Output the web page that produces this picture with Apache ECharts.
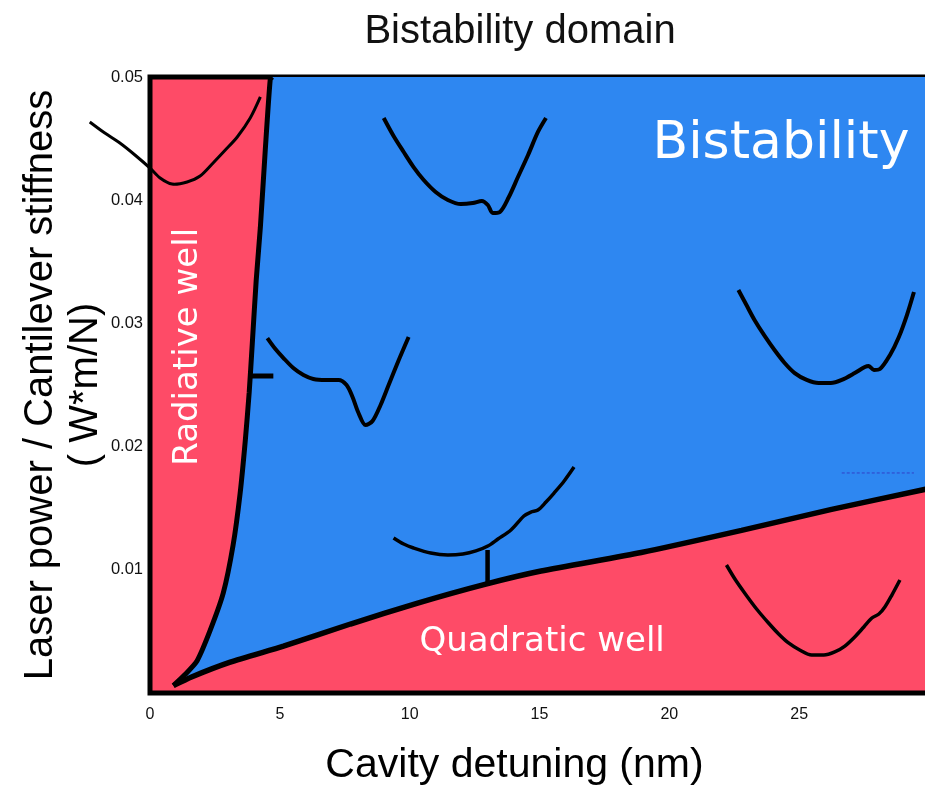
<!DOCTYPE html>
<html lang="en">
<head>
    <meta charset="UTF-8">
    <title>Bistability domain</title>
    <script src="https://cdn.jsdelivr.net/npm/echarts@6/dist/echarts.min.js"></script>
    <style>
        html, body { margin: 0; padding: 0; background: #fff; }
    </style>
</head>
<body>
    <div id="main" style="width: 925px;height:787px;"></div>
    <script type="text/javascript">
        // axis ticks
        var xTicks = [0, 5, 10, 15, 20, 25];
        var yTicks = [0.01, 0.02, 0.03, 0.04, 0.05];

        // boundary of the bistable domain (detuning nm, power/stiffness)
        var leftBoundary = [
            [0.9, 0.0006], [1.35, 0.0015], [1.81, 0.0026], [2.32, 0.0051], [2.82, 0.0081],
            [3.2, 0.012], [3.47, 0.0162], [3.67, 0.0205], [3.82, 0.0244], [3.94, 0.0284],
            [4.09, 0.0335], [4.25, 0.0378], [4.44, 0.0441], [4.63, 0.0498], [4.71, 0.05]
        ];
        var bottomBoundary = [
            [0.9, 0.0006], [1.6, 0.0013], [3.09, 0.0025], [5.14, 0.0038], [7.72, 0.0056],
            [10.31, 0.0073], [12.86, 0.0088], [15.06, 0.0099], [18.92, 0.0114],
            [22.78, 0.0132], [26.25, 0.0149], [30, 0.0166]
        ];

        // potential well sketches
        var wellTopLeft = [
            [-2.32, 0.04635], [-1.74, 0.04545], [-1.16, 0.04464], [-0.58, 0.04367], [0, 0.04261],
            [0.39, 0.0418], [0.85, 0.04131], [1.43, 0.04148], [1.93, 0.04196], [2.43, 0.04302],
            [2.9, 0.04407], [3.36, 0.04513], [3.86, 0.04667], [4.25, 0.04838]
        ];
        var wellTopMid = [
            [9.0, 0.04667], [9.38, 0.04521], [9.77, 0.04391], [10.15, 0.04269], [10.54, 0.04164],
            [11.0, 0.04067], [11.47, 0.04002], [11.97, 0.03969], [12.43, 0.03977], [12.78, 0.03994],
            [13.01, 0.03961], [13.2, 0.03896], [13.47, 0.03904], [13.82, 0.04026], [14.17, 0.04188],
            [14.56, 0.04367], [14.94, 0.04554], [15.25, 0.04667]
        ];
        var wellMidLeft = [
            [4.52, 0.02881], [4.83, 0.02792], [5.14, 0.02719], [5.52, 0.02638], [5.91, 0.02581],
            [6.29, 0.02549], [6.76, 0.02541], [7.26, 0.02541], [7.57, 0.025], [7.8, 0.02403],
            [8.03, 0.02273], [8.3, 0.02175], [8.57, 0.02208], [8.88, 0.02338], [9.19, 0.025],
            [9.58, 0.02703], [9.96, 0.0289]
        ];
        var wellMidLeftTick = [[3.86, 0.02573], [4.75, 0.02573]];
        var wellLowMid = [
            [9.38, 0.01258], [9.77, 0.01209], [10.15, 0.01177], [10.81, 0.01136], [11.47, 0.0112],
            [12.05, 0.01128], [12.55, 0.01153], [13.01, 0.01193], [13.4, 0.0125], [13.9, 0.01323],
            [14.4, 0.01437], [14.67, 0.01469], [14.94, 0.01485], [15.25, 0.0155], [15.56, 0.01623],
            [15.95, 0.01721], [16.33, 0.01834]
        ];
        var wellLowMidTick = [[13.0, 0.0089], [13.0, 0.0116]];
        var wellRight = [
            [22.66, 0.03271], [22.97, 0.03149], [23.28, 0.03028], [23.67, 0.02898], [24.05, 0.02784],
            [24.44, 0.02679], [24.83, 0.02597], [25.29, 0.02541], [25.75, 0.02516], [26.22, 0.02516],
            [26.64, 0.02541], [27.14, 0.02597], [27.53, 0.02646], [27.68, 0.02654], [27.88, 0.02622],
            [28.11, 0.0263], [28.5, 0.02744], [28.84, 0.0289], [29.15, 0.03068], [29.42, 0.03255]
        ];
        var wellBottomRight = [
            [22.2, 0.01039], [22.55, 0.00917], [22.9, 0.00812], [23.36, 0.00682], [23.82, 0.00568],
            [24.21, 0.00479], [24.59, 0.00406], [25.02, 0.00349], [25.48, 0.00308], [25.95, 0.00308],
            [26.37, 0.00333], [26.76, 0.00381], [27.14, 0.00455], [27.49, 0.00536], [27.8, 0.00609],
            [28.07, 0.00641], [28.3, 0.00698], [28.57, 0.00795], [28.88, 0.00917]
        ];
        var stray = [[26.64, 0.01786], [29.42, 0.01786]];

        // region names
        var regionNames = ['Bistability', 'Radiative well', 'Quadratic well'];
        var regionAt = [[24.3, 0.0445], [1.47, 0.0281], [15.1, 0.0041]];

        var RED = '#fe4b67';
        var BLUE = '#2e87f1';

        var myChart = echarts.init(document.getElementById('main'));

        // blue polygon: left edge up, along the top, down the right side, bottom edge back
        var domain = leftBoundary.concat([[30, 0.05]]).concat(bottomBoundary.slice().reverse());

        var wellLine = function (pts, w) {
            return {
                type: 'line',
                data: pts,
                showSymbol: false,
                smooth: 0.3,
                z: 5,
                silent: true,
                lineStyle: { color: '#000', width: w || 3.5 },
            };
        };

        var option = {
            animation: false,
            title: {
                text: 'Bistability domain',
                left: 515,
                textAlign: 'center',
                top: 7,
                textStyle: { fontFamily: 'Liberation Sans', fontSize: 40, fontWeight: 'normal', color: '#111' },
            },
            grid: {
                left: 150,
                right: -4,
                top: 77,
                bottom: 94,
                outerBoundsMode: 'none',
                containLabel: false,
                show: true,
                backgroundColor: RED,
                borderColor: '#000',
                borderWidth: 5,
                z: 0,
            },
            xAxis: {
                type: 'value',
                min: 0,
                max: 30,
                interval: 5,
                name: 'Cavity detuning (nm)',
                nameLocation: 'middle',
                nameGap: 52,
                nameMoveOverlap: false,
                nameTextStyle: {
                    fontFamily: 'Liberation Sans', fontSize: 41, color: '#000',
                    padding: [0, 50, 0, 0],
                },
                axisLine: { show: false },
                axisTick: { show: false },
                splitLine: { show: false },
                axisLabel: {
                    margin: 14,
                    fontFamily: 'Liberation Sans Narrow, Liberation Sans',
                    fontSize: 16,
                    color: '#111',
                    showMaxLabel: false,
                    formatter: function (v) { return xTicks.indexOf(v) >= 0 ? String(v) : ''; },
                },
            },
            yAxis: {
                type: 'value',
                min: 0,
                max: 0.05,
                interval: 0.01,
                name: 'Laser power / Cantilever stiffness\n( W*m/N)',
                nameLocation: 'middle',
                nameGap: 42,
                nameMoveOverlap: false,
                nameTextStyle: { fontFamily: 'Liberation Sans', fontSize: 40, color: '#000', lineHeight: 45 },
                axisLine: { show: false },
                axisTick: { show: false },
                splitLine: { show: false },
                axisLabel: {
                    margin: 7,
                    fontFamily: 'Liberation Sans',
                    fontSize: 16.5,
                    color: '#111',
                    formatter: function (v) {
                        var r = Math.round(v * 100) / 100;
                        return yTicks.indexOf(r) >= 0 ? r.toFixed(2) : '';
                    },
                },
            },
            series: [
                {
                    type: 'custom',
                    data: [[0, 0]],
                    z: 1,
                    silent: true,
                    renderItem: function (params, api) {
                        return {
                            type: 'polygon',
                            shape: { points: domain.map(function (p) { return api.coord(p); }) },
                            style: { fill: BLUE },
                        };
                    },
                },
                {
                    type: 'line',
                    data: leftBoundary,
                    showSymbol: false,
                    smooth: 0.2,
                    z: 4,
                    silent: true,
                    lineStyle: { color: '#000', width: 5 },
                },
                {
                    type: 'line',
                    data: bottomBoundary,
                    showSymbol: false,
                    smooth: 0.2,
                    z: 4,
                    silent: true,
                    lineStyle: { color: '#000', width: 5.5 },
                },
                {
                    // this sketch runs out past the left frame, so draw it unclipped
                    type: 'custom',
                    data: [[0, 0]],
                    z: 5,
                    clip: false,
                    silent: true,
                    renderItem: function (params, api) {
                        return {
                            type: 'polyline',
                            shape: { points: wellTopLeft.map(function (p) { return api.coord(p); }), smooth: 0.3 },
                            style: { stroke: '#000', lineWidth: 3, fill: null },
                        };
                    },
                },
                wellLine(wellTopMid, 4),
                wellLine(wellMidLeft, 4),
                wellLine(wellMidLeftTick, 5),
                wellLine(wellLowMid, 3.5),
                wellLine(wellLowMidTick, 4.5),
                wellLine(wellRight, 4),
                wellLine(wellBottomRight, 3.5),
                {
                    type: 'line',
                    data: stray,
                    showSymbol: false,
                    z: 5,
                    silent: true,
                    lineStyle: { color: '#3140c8', width: 1, type: [3, 2] },
                },
                {
                    type: 'scatter',
                    symbolSize: 1,
                    z: 6,
                    silent: true,
                    itemStyle: { opacity: 1, color: 'rgba(0,0,0,0)' },
                    data: regionNames.map(function (n, i) { return { name: n, value: regionAt[i] }; }),
                    label: {
                        show: true,
                        position: 'inside',
                        color: '#ffffff',
                        opacity: 1,
                        textBorderWidth: 0,
                        fontFamily: 'DejaVu Sans',
                        formatter: '{b}',
                    },
                },
            ],
        };

        // per-label sizes and rotation
        var names = option.series[option.series.length - 1].data;
        names[0].label = { fontSize: 52 };
        names[1].label = { fontSize: 34, rotate: 90 };
        names[2].label = { fontSize: 34 };

        myChart.setOption(option);
    </script>
</body>
</html>
